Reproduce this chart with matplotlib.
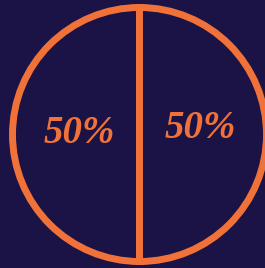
import matplotlib
matplotlib.use('Agg')
import matplotlib.pyplot as plt

# доли двух половин
shares = [50, 50]
labels = ['50%', '50%']

bg = '#1b1246'
orange = '#f07238'

fig = plt.figure(figsize=(2.65, 2.68), dpi=100, facecolor=bg)
ax = fig.add_axes([0, 0, 1, 1])
ax.set_facecolor(bg)

wedges, texts = ax.pie(shares, labels=labels, startangle=90, radius=1.0,
                       labeldistance=0.475,
                       wedgeprops=dict(facecolor=bg, edgecolor=orange, linewidth=5.0),
                       textprops=dict(color=orange, family='Liberation Serif',
                                      style='italic', weight='bold', fontsize=28,
                                      ha='center', va='center'))
for w in wedges:
    w.set_clip_on(False)

# правая подпись чуть выше левой
texts[0].set_y(texts[0].get_position()[1] + 0.005)
texts[1].set_y(texts[1].get_position()[1] + 0.045)

# центр круга примерно в (139.5, 134.5) px, радиус ~127 px
s = 127.0
ax.set_xlim(-139.5 / s, -139.5 / s + 265 / s)
ax.set_ylim(-133.5 / s, -133.5 / s + 268 / s)
ax.set_aspect('auto')
ax.axis('off')

plt.savefig('out.png', dpi=100, facecolor=bg)
